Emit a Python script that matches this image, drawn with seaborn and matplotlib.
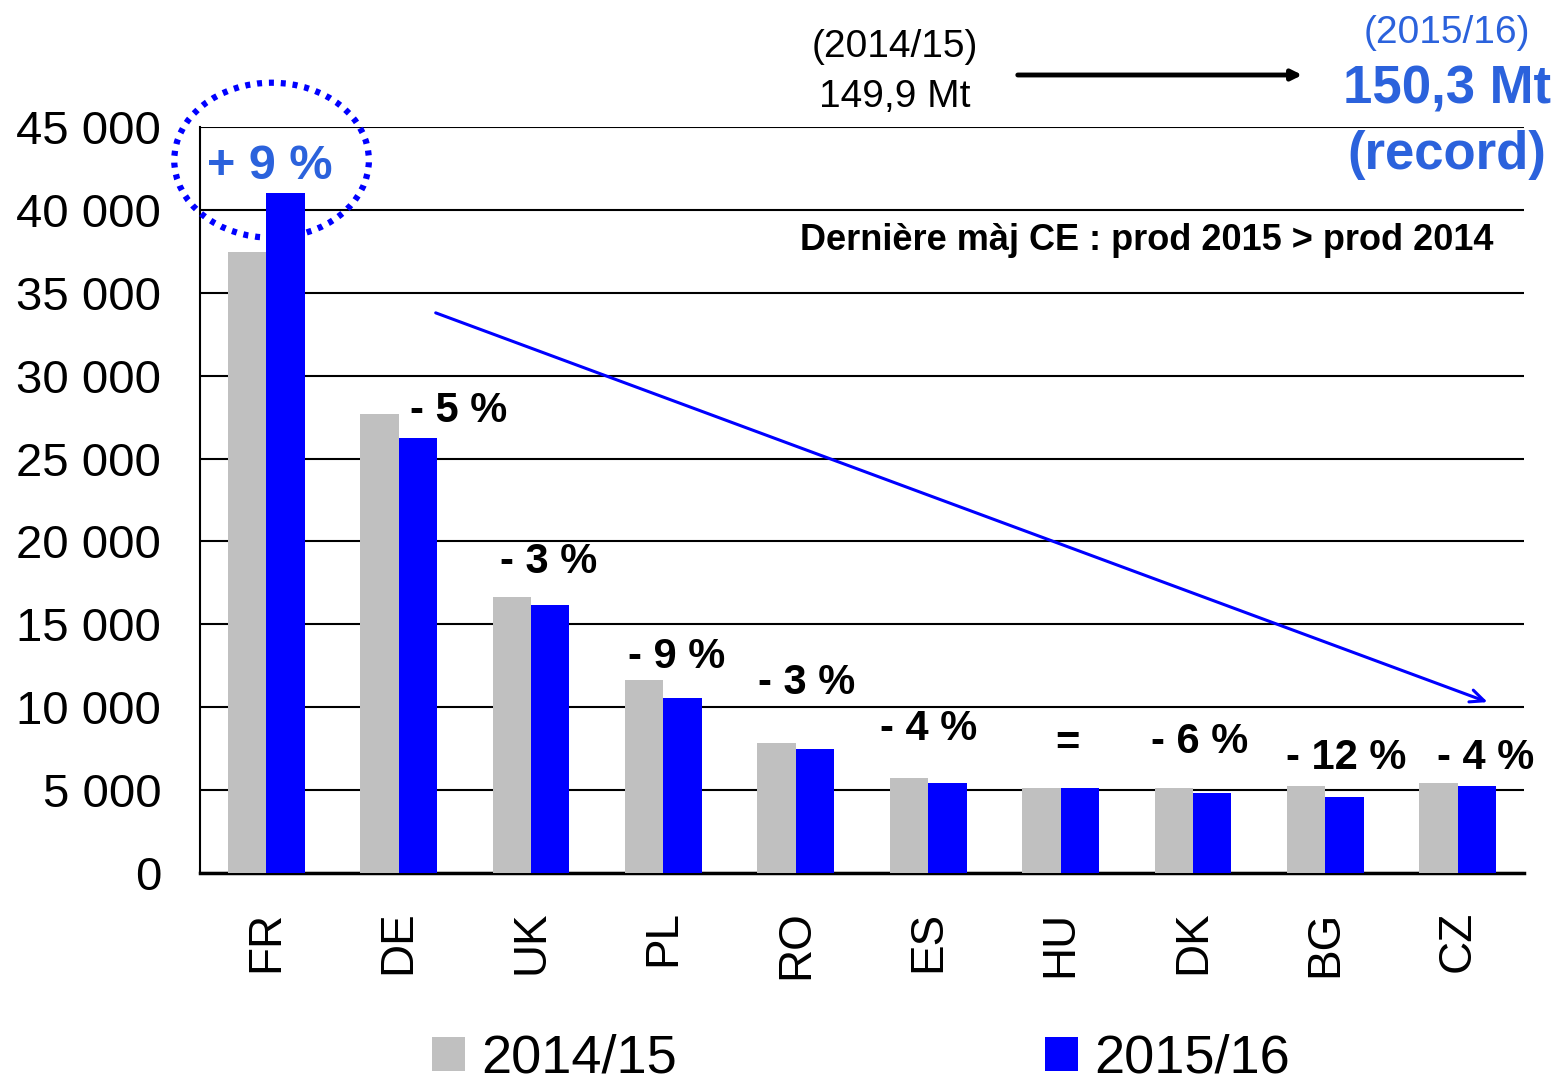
import matplotlib
matplotlib.use('Agg')
import matplotlib.pyplot as plt
from matplotlib.patches import Ellipse, Patch
import seaborn as sns
import pandas as pd

# Data (production, kt)
countries = ['FR', 'DE', 'UK', 'PL', 'RO', 'ES', 'HU', 'DK', 'BG', 'CZ']
prod_2014 = [37450, 27700, 16650, 11650, 7850, 5750, 5100, 5100, 5250, 5450]
prod_2015 = [41050, 26250, 16150, 10550, 7500, 5450, 5100, 4800, 4600, 5250]
changes = ['+ 9 %', '- 5 %', '- 3 %', '- 9 %', '- 3 %', '- 4 %', '=', '- 6 %', '- 12 %', '- 4 %']
seasons = ['2014/15', '2015/16']
yticks = [0, 5000, 10000, 15000, 20000, 25000, 30000, 35000, 40000, 45000]

df = pd.DataFrame({
    'country': countries * 2,
    'prod': prod_2014 + prod_2015,
    'season': [seasons[0]] * len(countries) + [seasons[1]] * len(countries),
})

sns.set_style('white')
plt.rcParams['font.family'] = ['Liberation Sans', 'DejaVu Sans']
plt.rcParams['text.color'] = 'black'
plt.rcParams['xtick.color'] = 'black'
plt.rcParams['ytick.color'] = 'black'

GRAY = '#C0C0C0'
BLUE = '#0000FF'
TXT_BLUE = '#2B62DC'

fig = plt.figure(figsize=(15.57, 10.85), dpi=100)
ax = fig.add_axes([0.1285, 0.1954, 0.8503, 0.6875])

sns.barplot(data=df, x='country', y='prod', hue='season', palette=[GRAY, BLUE],
            width=0.58, saturation=1, legend=False, ax=ax, zorder=3,
            edgecolor='none', linewidth=0)

ax.set_xlim(-0.5, len(countries) - 0.5)
ax.set_ylim(0, 45000)
ax.set_yticks(yticks)
ax.set_yticklabels([f'{v:,}'.replace(',', ' ') for v in yticks], fontsize=34)
ax.tick_params(axis='y', direction='in', length=12, width=1.5, pad=28, colors='black')
ax.tick_params(axis='x', length=0, pad=27, labelsize=33, labelrotation=90, colors='black')
ax.set_xlabel('')
ax.set_ylabel('')

ax.yaxis.grid(True, color='black', linewidth=1.5, zorder=0)
ax.set_axisbelow(True)
for s in ['top', 'right']:
    ax.spines[s].set_visible(False)
ax.spines['left'].set_color('black')
ax.spines['left'].set_linewidth(1.5)
ax.spines['bottom'].set_color('black')
ax.spines['bottom'].set_linewidth(2.5)

# percentage change labels
label_pos = [(0.03, 42600), (1.45, 27900), (2.13, 18750), (3.1, 13050), (4.08, 11450),
             (5.0, 8700), (6.05, 7800), (7.05, 7900), (8.16, 6950), (9.21, 6950)]
for i, (txt, (x, y)) in enumerate(zip(changes, label_pos)):
    if i == 0:
        ax.text(x, y, txt, ha='center', va='center', fontsize=35, fontweight='bold',
                color=TXT_BLUE, zorder=6)
    else:
        ax.text(x, y, txt, ha='center', va='center', fontsize=30, fontweight='bold',
                color='black', zorder=6)

# dotted circle around FR
ax.add_patch(Ellipse((0.04, 43000), 1.47, 9350, fill=False, edgecolor=BLUE,
                     linestyle=(0, (0.8, 1.1)), linewidth=4.5, clip_on=False, zorder=7))

# blue trend arrow
ax.annotate('', xy=(9.245, 10250), xytext=(1.26, 33850),
            arrowprops=dict(arrowstyle='->,head_length=1.0,head_width=0.45',
                            color=BLUE, lw=2.2), zorder=6)

# top annotations
fig.text(895 / 1557, 1 - 47 / 1085, '(2014/15)', ha='center', va='center', fontsize=28)
fig.text(895 / 1557, 1 - 97 / 1085, '149,9 Mt', ha='center', va='center', fontsize=28)
fig.text(1447 / 1557, 1 - 33 / 1085, '(2015/16)', ha='center', va='center', fontsize=28,
         color=TXT_BLUE)
fig.text(1447 / 1557, 1 - 90 / 1085, '150,3 Mt', ha='center', va='center', fontsize=38,
         fontweight='bold', color=TXT_BLUE)
fig.text(1447 / 1557, 1 - 155 / 1085, '(record)', ha='center', va='center', fontsize=38,
         fontweight='bold', color=TXT_BLUE)
fig.text(1493 / 1557, 1 - 240 / 1085, 'Dernière màj CE : prod 2015 > prod 2014',
         ha='right', va='center', fontsize=26, fontweight='bold')

ax.annotate('', xy=(1305 / 1557, 1 - 75 / 1085), xytext=(1015 / 1557, 1 - 75 / 1085),
            xycoords='figure fraction', textcoords='figure fraction',
            arrowprops=dict(arrowstyle='-|>,head_length=0.6,head_width=0.3',
                            color='black', lw=3.5))

# legend
handles = [Patch(facecolor=GRAY, edgecolor='none'), Patch(facecolor=BLUE, edgecolor='none')]
fig.legend(handles, seasons, loc='center', bbox_to_anchor=(0.553, 0.024), ncol=2,
           frameon=False, fontsize=39, handlelength=0.6, handleheight=0.6,
           handletextpad=0.3, columnspacing=6.8, borderpad=0.1)

fig.savefig('out.png', dpi=100)
